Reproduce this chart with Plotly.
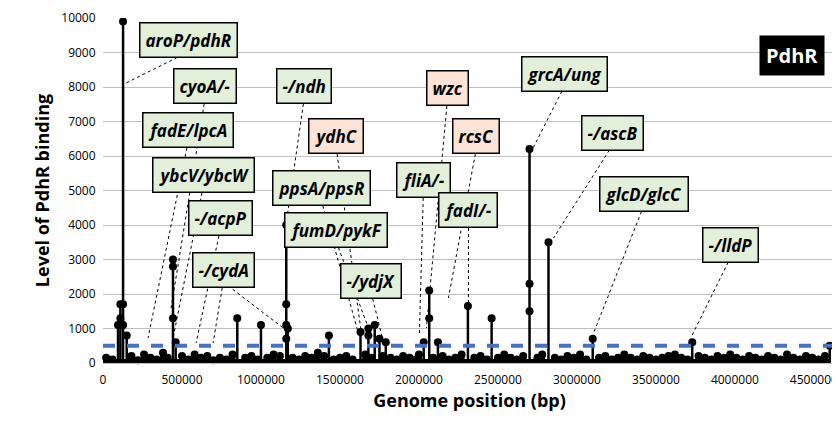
import plotly.graph_objects as go

# peaks: position (bp) and the binding levels marked along each stem
peak_pos = [95000, 110000, 127000, 150000, 443000, 460000, 850000, 1000000, 1160000, 1170000,
            1430000, 1630000, 1680000, 1720000, 1750000, 1790000, 2030000, 2065000, 2120000,
            2310000, 2460000, 2700000, 2820000, 3100000, 3730000, 4600000]
peak_val = [[1100], [1300, 1700], [9900, 1700, 1100], [800], [3000, 2800, 1300], [600], [1300], [1100],
            [4000, 1700, 1100, 700], [1000], [800], [900], [800, 1000], [1100], [700], [600],
            [600], [1300, 2100], [600], [1650], [1300], [6200, 2300, 1500], [3500], [700], [600], [500]]

# background signal along the genome
noise_pos = [20000, 60000, 180000, 220000, 260000, 300000, 340000, 380000, 410000, 500000, 540000,
             580000, 620000, 660000, 700000, 740000, 780000, 820000, 900000, 940000, 980000,
             1040000, 1080000, 1120000, 1200000, 1240000, 1280000, 1320000, 1360000, 1400000,
             1460000, 1500000, 1540000, 1580000, 1660000, 1700000, 1770000, 1820000, 1860000,
             1900000, 1940000, 1980000, 2000000, 2090000, 2150000, 2190000, 2230000, 2270000,
             2350000, 2390000, 2430000, 2500000, 2540000, 2580000, 2620000, 2660000, 2750000,
             2780000, 2860000, 2900000, 2940000, 2980000, 3020000, 3060000, 3140000, 3180000,
             3220000, 3260000, 3300000, 3340000, 3380000, 3420000, 3460000, 3500000, 3540000,
             3580000, 3620000, 3660000, 3700000, 3770000, 3810000, 3850000, 3890000, 3930000,
             3970000, 4010000, 4050000, 4090000, 4130000, 4170000, 4210000, 4250000, 4290000,
             4330000, 4370000, 4410000, 4450000, 4490000, 4530000, 4570000]
noise_val = [150, 100, 200, 80, 250, 150, 100, 300, 150, 200, 100, 250, 150, 200, 80, 150, 100,
             250, 150, 200, 100, 150, 250, 200, 150, 100, 200, 150, 300, 200, 100, 150, 200, 100,
             250, 150, 200, 150, 100, 200, 150, 100, 250, 150, 200, 100, 150, 250, 150, 200, 100,
             150, 250, 150, 100, 200, 150, 250, 150, 100, 200, 150, 250, 100, 150, 200, 100, 150,
             250, 150, 100, 200, 150, 100, 150, 200, 250, 150, 100, 200, 150, 100, 200, 150, 250,
             150, 100, 200, 150, 100, 200, 150, 100, 250, 150, 100, 200, 150, 100, 200]

threshold = 500

# gene labels: text, box centre (px), target (px), colour kind
labels = [
    ("aroP/pdhR", 180, 32, [(118, 75)], "g"),
    ("cyoA/-", 197, 78, [(163, 300)], "g"),
    ("fadE/lpcA", 180, 122, [(140, 330)], "g"),
    ("ybcV/ybcW", 195, 167, [(165, 330)], "g"),
    ("-/acpP", 212, 210, [(188, 335)], "g"),
    ("-/cydA", 215, 262, [(205, 335), (275, 320)], "g"),
    ("-/ndh", 296, 78, [(278, 215)], "g"),
    ("ydhC", 328, 128, [(353, 325)], "p"),
    ("ppsA/ppsR", 313, 180, [(350, 325)], "g"),
    ("fumD/pykF", 328, 222, [(362, 325)], "g"),
    ("-/ydjX", 363, 273, [(374, 330)], "g"),
    ("wzc", 439, 80, [(418, 320)], "p"),
    ("rcsC", 468, 128, [(440, 290)], "p"),
    ("fliA/-", 415, 172, [(411, 325)], "g"),
    ("fadI/-", 460, 202, [(460, 300)], "g"),
    ("grcA/ung", 556, 66, [(522, 145)], "g"),
    ("-/ascB", 604, 125, [(545, 230)], "g"),
    ("glcD/glcC", 635, 186, [(585, 325)], "g"),
    ("-/lldP", 722, 237, [(683, 328)], "g"),
]


def px_to_data(px, py):
    return (px - 95) / 710 * 4500000, (355 - py) / 345 * 10000


fig = go.Figure()

# noise stems
sx, sy = [], []
for p, v in zip(noise_pos, noise_val):
    sx += [p, p, None]
    sy += [0, v, None]
fig.add_trace(go.Scatter(x=sx, y=sy, mode="lines", line=dict(color="black", width=6),
                         hoverinfo="skip", showlegend=False, cliponaxis=False))
fig.add_trace(go.Scatter(x=noise_pos, y=noise_val, mode="markers", cliponaxis=False,
                         marker=dict(color="black", size=8), showlegend=False))
fig.add_trace(go.Scatter(x=[0, 4600000], y=[0, 0], mode="lines", cliponaxis=False,
                         line=dict(color="black", width=8), showlegend=False))

# peak stems
sx, sy, mx, my = [], [], [], []
for p, vals in zip(peak_pos, peak_val):
    sx += [p, p, None]
    sy += [0, max(vals), None]
    for v in vals:
        mx.append(p)
        my.append(v)
fig.add_trace(go.Scatter(x=sx, y=sy, mode="lines", line=dict(color="black", width=2.5),
                         hoverinfo="skip", showlegend=False))
fig.add_trace(go.Scatter(x=mx, y=my, mode="markers", marker=dict(color="black", size=8),
                         showlegend=False))

# threshold line
fig.add_trace(go.Scatter(x=[0, 4640000], y=[threshold, threshold], mode="lines",
                         line=dict(color="#4472c4", width=4, dash="dash"), showlegend=False))

for text, bx, by, targets, kind in labels:
    cx, cy = px_to_data(bx, by)
    for tx, ty in targets:
        x0, y0 = px_to_data(bx, by + 12)
        x1, y1 = px_to_data(tx, ty)
        fig.add_shape(type="line", x0=x0, y0=y0, x1=x1, y1=y1,
                      line=dict(color="black", width=1, dash="dot"))
    fig.add_annotation(x=cx, y=cy, text="<b><i>" + text + "</i></b>", showarrow=False,
                       font=dict(size=17, color="black", family="Open Sans"),
                       bgcolor="#e2efd9" if kind == "g" else "#fbe4d5",
                       bordercolor="black", borderwidth=1.5, borderpad=5)

fig.add_annotation(x=0.985, y=0.95, xref="paper", yref="paper", text="<b>PdhR</b>",
                   showarrow=False, font=dict(size=20, color="white", family="Open Sans"),
                   bgcolor="black", borderpad=6)

fig.update_layout(
    width=840, height=424, plot_bgcolor="white", paper_bgcolor="white",
    margin=dict(l=95, r=12, t=10, b=69, autoexpand=False),
    font=dict(family="Open Sans", color="black"),
    xaxis=dict(range=[0, 4640000], tickvals=list(range(0, 4500001, 500000)),
               tickfont=dict(size=12), showgrid=False, zeroline=False, ticklen=6,
               ticks="outside", tickcolor="white",
               title=dict(text="<b>Genome position (bp)</b>", font=dict(size=18), standoff=2),
               showline=True, linecolor="#bfbfbf"),
    yaxis=dict(range=[0, 10000], dtick=1000, tickfont=dict(size=12),
               gridcolor="#bfbfbf", zeroline=False, ticks="outside", tickcolor="white",
               ticklen=4,
               title=dict(text="<b>Level of PdhR binding</b>", font=dict(size=18), standoff=6)),
)
fig.update_xaxes(tickformat="d")
fig.update_yaxes(tickformat="d")

fig.write_html("out.html")
